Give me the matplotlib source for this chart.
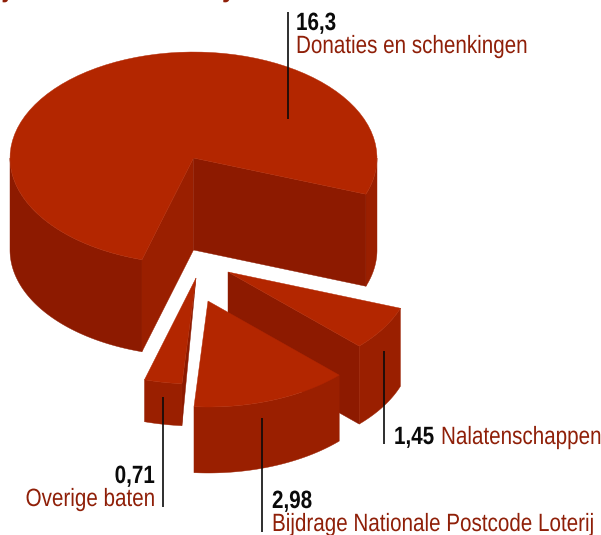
import numpy as np
import matplotlib
matplotlib.use("Agg")
import matplotlib.pyplot as plt
from matplotlib.patheffects import AbstractPathEffect
from matplotlib.text import Text
from matplotlib.transforms import Affine2D, Bbox

# Data, counter clockwise from the right edge of the big slice
labels = ["Donaties en schenkingen", "Overige baten", "Bijdrage Nationale Postcode Loterij", "Nalatenschappen"]
values = [16.3, 0.71, 2.98, 1.45]

TOP = "#b32600"
RIM = "#9a1f00"
WALL = "#8d1a00"
LABEL = "#8f1f08"
INK = "#0a0a0a"

START = -20.0
RX, RY = 183.5, 106.0

# apex of each slice in pixels and how thick it is drawn
apex = [(193.5, 158), (196, 278), (208, 301), (228, 272)]
depth = [92, 42, 66, 78]

FS = 18
SX = 0.825  # reference font is a narrow one, no narrow font here so squeeze it

plt.rcParams["font.family"] = ["Liberation Sans"]

fig = plt.figure(figsize=(6.01, 5.35), dpi=100)
ax = fig.add_axes([0, 0, 1, 1])
ax.set_xlim(0, 601)
ax.set_ylim(535, 0)
ax.axis("off")
renderer = fig.canvas.get_renderer()


class Squeeze(AbstractPathEffect):
    def draw_path(self, renderer, gc, tpath, affine, rgbFace=None):
        renderer.draw_path(gc, tpath, Affine2D().scale(SX, 1) + affine, rgbFace)


class NarrowText(Text):
    # extent has to follow the squeezed glyphs
    def get_window_extent(self, renderer=None, dpi=None):
        b = super().get_window_extent(renderer, dpi)
        return Bbox.from_extents(b.x0, b.y0, b.x0 + b.width * SX, b.y1)


def label(x, y, s, color, bold=False, right=False, size=FS):
    t = NarrowText(x, y, s, fontsize=size, fontweight="bold" if bold else "normal", color=color, va="baseline")
    ax.add_artist(t)
    t.set_path_effects([Squeeze()])
    if right:
        t.set_x(x - t.get_window_extent(renderer).width)
    return t


def arc(c, a, b):
    t = np.radians(np.linspace(a, b, 80))
    return c[0] + RX * np.cos(t), c[1] - RY * np.sin(t)


def point(c, a):
    t = np.radians(a)
    return c[0] + RX * np.cos(t), c[1] - RY * np.sin(t)


def rim(c, d, a, b, color):
    x, y = arc(c, a, b)
    ax.fill(np.r_[x, x[::-1]], np.r_[y, y[::-1] + d], color=color, lw=0.3)


def wall(c, d, a, color, taper=False):
    x, y = point(c, a)
    if taper:
        ax.fill([c[0], x, x], [c[1], y, y + d], color=color, lw=0.3)
    else:
        ax.fill([c[0], x, x, c[0]], [c[1], y, y + d, c[1] + d], color=color, lw=0.3)


def top(c, a, b):
    x, y = arc(c, a, b)
    ax.fill(np.r_[c[0], x], np.r_[c[1], y], color=TOP, lw=0.3)


spans = np.array(values) / sum(values) * 360
ends = START + np.cumsum(spans)
starts = ends - spans

# big slice
rim(apex[0], depth[0], 180, ends[0], WALL)
rim(apex[0], depth[0], starts[0], 0, RIM)
wall(apex[0], depth[0], ends[0], RIM)
wall(apex[0], depth[0], starts[0], WALL)
top(apex[0], starts[0], ends[0])

# Nalatenschappen
wall(apex[3], depth[3], starts[3], WALL)
rim(apex[3], depth[3], starts[3], ends[3], RIM)
top(apex[3], starts[3], ends[3])

# Bijdrage
rim(apex[2], depth[2], starts[2], ends[2], RIM)
top(apex[2], starts[2], ends[2])

# Overige
wall(apex[1], depth[1], ends[1], WALL, taper=True)
rim(apex[1], depth[1], starts[1], ends[1], RIM)
top(apex[1], starts[1], ends[1])

# leader lines
for x, y0, y1 in [(288, 12, 119), (163, 397, 507), (262, 418, 532), (384, 351, 444)]:
    ax.plot([x, x], [y0, y1], color=INK, lw=1.2, solid_capstyle="butt")

vals = [f"{v}".replace(".", ",") for v in values]

label(296, 30, vals[0], INK, bold=True)
label(296, 53, labels[0], LABEL)

label(155, 483, vals[1], INK, bold=True, right=True)
label(155, 506, labels[1], LABEL, right=True)

label(272, 508, vals[2], INK, bold=True)
label(272, 531, labels[2], LABEL)

label(394, 444, vals[3], INK, bold=True)
label(441, 444, labels[3], LABEL)

# bits of the cropped title that stick in from the top
label(3, -4, "j", LABEL, bold=True, size=22)
label(222, -4, "y", LABEL, bold=True, size=22)

fig.savefig("out.png", dpi=100)
